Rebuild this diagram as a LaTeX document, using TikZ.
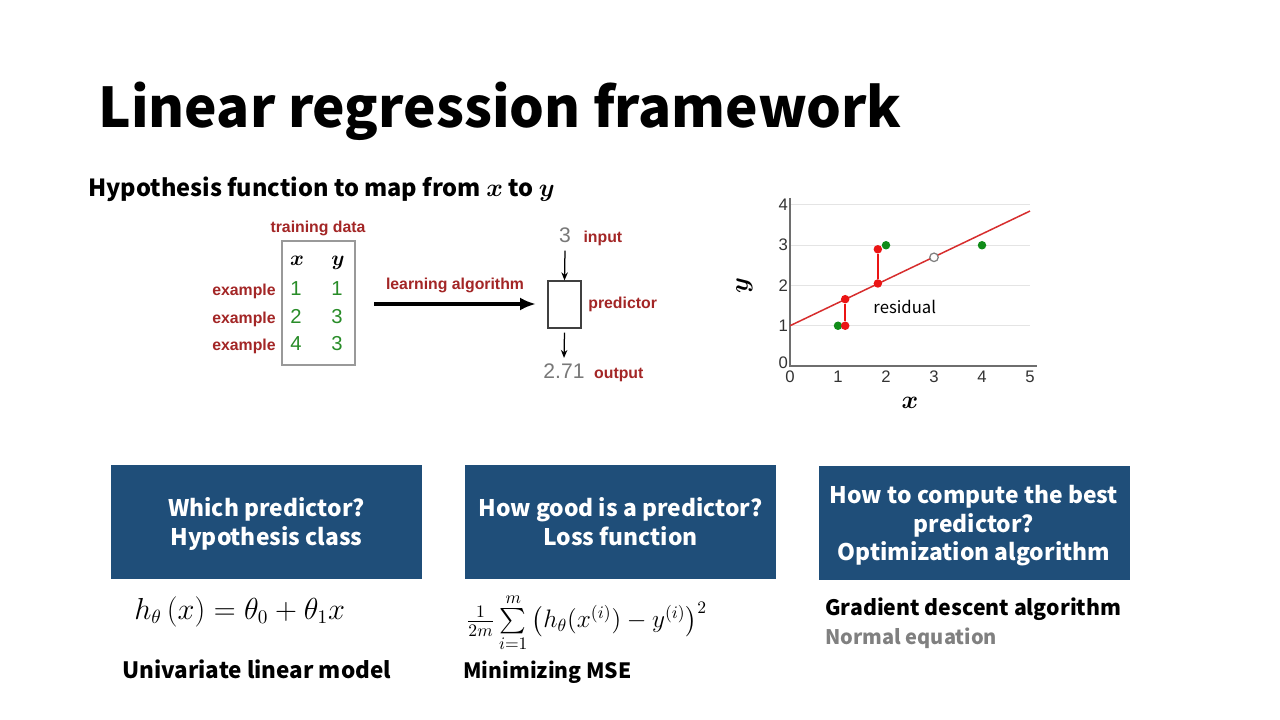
\documentclass[tikz,border=0pt]{standalone}
\usepackage{amsmath,bm}
\usepackage{fontspec}
\setmainfont{Noto Sans CJK KR}
\newfontfamily\arialfont{Liberation Sans}
\usetikzlibrary{arrows.meta,positioning}

\definecolor{boxblue}{RGB}{31,78,121}
\definecolor{labred}{RGB}{163,38,38}
\definecolor{numgreen}{RGB}{40,140,40}
\definecolor{numgrey}{RGB}{120,120,120}
\definecolor{dotgreen}{RGB}{16,140,24}
\definecolor{dotred}{RGB}{235,20,20}
\definecolor{fitred}{RGB}{215,45,45}
\definecolor{gridgrey}{RGB}{228,228,228}
\definecolor{axisgrey}{RGB}{110,110,110}

\tikzset{
  redlab/.style={font=\arialfont\bfseries\fontsize{9}{10}\selectfont, text=labred, inner sep=0pt},
  greennum/.style={font=\arialfont\fontsize{11.5}{12}\selectfont, text=numgreen, inner sep=0pt},
  greynum/.style={font=\arialfont\fontsize{12}{12}\selectfont, text=numgrey, inner sep=0pt},
  ticklab/.style={font=\arialfont\fontsize{9.5}{10}\selectfont, text=black!80, inner sep=1pt},
  qbox/.style={fill=boxblue, text=white, align=center, minimum width=62.2mm, minimum height=22.8mm,
    font=\bfseries\fontsize{13}{16.2}\selectfont, text depth=0pt},
  bodytext/.style={font=\bfseries\fontsize{12.8}{15}\selectfont, inner sep=0pt, anchor=base west},
  dot/.style={circle, inner sep=0pt, minimum size=1.7mm},
}

\begin{document}
\begin{tikzpicture}[x=0.2mm, y=-0.2mm]
  \useasboundingbox[fill=white] (0,0) rectangle (1280,720);

  % Title and subtitle
  \node[anchor=base west, inner sep=0pt, font=\bfseries\fontsize{31.2}{36}\selectfont] (title) at (98,128)
    {Linear regression framework};
  \node[bodytext, font=\bfseries\fontsize{13.4}{15}\selectfont] (hyptitle) at (88,197)
    {Hypothesis function to map from $\bm{x}$ to $\bm{y}$};

  % Training data table
  \node[draw=gray!80, line width=0.3mm, minimum width=14.6mm, minimum height=24.8mm] (table) at (318.5,303) {};
  \node[redlab, anchor=base] (tdata) at (318,233) {training data};
  \node[font=\fontsize{13}{13}\selectfont, inner sep=0pt, anchor=base] (hx) at (297,266) {$\bm{x}$};
  \node[font=\fontsize{13}{13}\selectfont, inner sep=0pt, anchor=base] (hy) at (338,266) {$\bm{y}$};
  \foreach \r/\xv/\yv/\yb in {1/1/1/296, 2/2/3/323, 3/4/3/350} {
    \node[greennum, anchor=base] (x\r) at (296,\yb) {\xv};
    \node[greennum, anchor=base] (y\r) at (337,\yb) {\yv};
    \node[redlab, anchor=base east] (ex\r) at (276,\yb) {example};
  }

  % Learning algorithm and predictor
  \coordinate (lstart) at (374,304);
  \coordinate (lend) at (536,304);
  \draw[-{Latex[length=3.2mm,width=2.6mm]}, line width=0.8mm] (lstart) -- (lend)
    node[redlab, midway, above=1.9mm] (lalg) {learning algorithm};
  \node[draw=black!75, line width=0.25mm, minimum width=6.6mm, minimum height=9.4mm] (pred) at (564.5,304.5) {};
  \node[redlab, anchor=base west] (predlab) at (588,308) {predictor};
  \node[greynum, anchor=base] (in3) at (565,243) {3};
  \node[redlab, anchor=base west] (inlab) at ([xshift=2.4mm]in3.base east) {input};
  \node[greynum, anchor=base] (out271) at (564,378) {2.71};
  \node[redlab, anchor=base west] (outlab) at ([xshift=1.8mm]out271.base east) {output};
  \draw[-{Stealth[length=1.6mm,width=1.3mm]}, line width=0.25mm] ([yshift=-1.4mm]in3.south) -- (pred.north);
  \draw[-{Stealth[length=1.6mm,width=1.3mm]}, line width=0.25mm] ([yshift=-0.8mm]pred.south) -- ([yshift=1.0mm]out271.north);

  % Scatter plot with fitted line
  \begin{scope}[shift={(790,366)}, x=9.6mm, y=8.05mm]
    \foreach \k in {1,...,4}
      \draw[gridgrey, line width=0.2mm] (0,\k) -- (5,\k);
    \draw[axisgrey, line width=0.25mm] (0,4.18) -- (0,0) -- (5.14,0);
    \foreach \k in {1,...,5}
      \node[ticklab, anchor=north] (xt\k) at (\k,-0.08) {\k};
    \node[ticklab, anchor=north] (xt0) at (0,-0.08) {0};
    \foreach \k in {1,...,4}
      \node[ticklab, anchor=east] (yt\k) at (0,\k) {\k};
    \node[ticklab, anchor=east] (yt0) at (0,0.07) {0};
    \node[font=\fontsize{14}{14}\selectfont] (xaxlab) at (2.5,-0.92) {$\bm{x}$};
    \node[font=\fontsize{14}{14}\selectfont, rotate=90] (yaxlab) at (-0.95,2.0) {$\bm{y}$};
    \coordinate (fit0) at (0,1);
    \coordinate (fit5) at (5,3.85);
    \draw[fitred, line width=0.3mm] (fit0) -- (fit5);
    \node[dot, fill=dotgreen] (g1) at (1,1) {};
    \node[dot, fill=dotgreen] (g2) at (2,3) {};
    \node[dot, fill=dotgreen] (g3) at (4,3) {};
    \node[dot, fill=dotred] (r1a) at (1.15,1) {};
    \node[dot, fill=dotred] (r1b) at (1.15,1.66) {};
    \node[dot, fill=dotred] (r2a) at (1.83,2.9) {};
    \node[dot, fill=dotred] (r2b) at (1.83,2.05) {};
    \draw[dotred, line width=0.3mm] (r1a) -- (r1b);
    \draw[dotred, line width=0.3mm] (r2a) -- (r2b);
    \node[dot, draw=gray, line width=0.25mm, fill=white] (pred3) at (3,2.7) {};
    \node[font=\fontsize{9.5}{10}\selectfont] (resid) at (2.39,1.46) {residual};
  \end{scope}

  % Three question boxes
  \node[qbox] (hypbox) at (266.5,521.5) {Which predictor?\\Hypothesis class};
  \node[qbox] (lossbox) at (620.5,521.5) {How good is a predictor?\\Loss function};
  \node[qbox] (optbox) at (974,523) {How to compute the best\\predictor?\\Optimization algorithm};

  % Answers below the boxes
  \node[anchor=base west, inner sep=0pt, font=\fontsize{16}{16}\selectfont] (hform) at (134,619)
    {$h_\theta\,(x) = \theta_0 + \theta_1 x$};
  \node[bodytext] (univ) at (122,678) {Univariate linear model};
  \node[anchor=west, inner sep=0pt, font=\fontsize{14.2}{15}\selectfont] (mseform) at (466,623)
    {$\tfrac{1}{2m}\sum\limits_{i=1}^{m}\,\bigl(h_\theta(x^{(i)})-y^{(i)}\bigr)^2$};
  \node[bodytext, font=\bfseries\fontsize{12}{15}\selectfont] (mse) at (463,678) {Minimizing MSE};
  \node[bodytext, font=\bfseries\fontsize{12.1}{15}\selectfont] (gd) at (825,615) {Gradient descent algorithm};
  \node[bodytext, font=\bfseries\fontsize{11.4}{15}\selectfont, text=gray] (normeq) at (825,644) {Normal equation};
\end{tikzpicture}
\end{document}
